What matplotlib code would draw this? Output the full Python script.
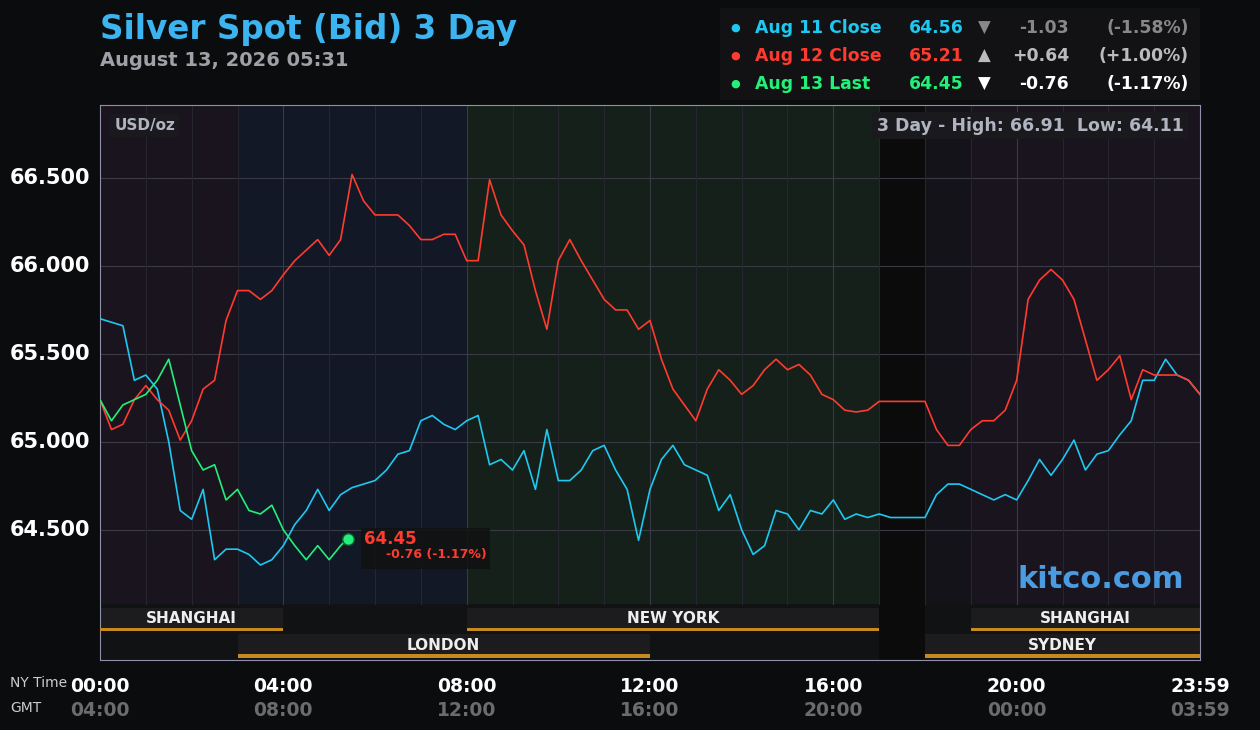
import numpy as np
import matplotlib
matplotlib.use("Agg")
import matplotlib.pyplot as plt
from matplotlib.patches import Rectangle

# ---- data (hours NY time, USD/oz) ----------------------------------
hours = np.arange(0, 24.01, 0.25)
aug11 = [65.70, 65.68, 65.66, 65.35, 65.38, 65.30, 65.00, 64.61, 64.56, 64.73,
         64.33, 64.39, 64.39, 64.36, 64.30, 64.33, 64.41, 64.53, 64.61, 64.73,
         64.61, 64.70, 64.74, 64.76, 64.78, 64.84, 64.93, 64.95, 65.12, 65.15,
         65.10, 65.07, 65.12, 65.15, 64.87, 64.90, 64.84, 64.95, 64.73, 65.07,
         64.78, 64.78, 64.84, 64.95, 64.98, 64.84, 64.73, 64.44, 64.73, 64.90,
         64.98, 64.87, 64.84, 64.81, 64.61, 64.70, 64.50, 64.36, 64.41, 64.61,
         64.59, 64.50, 64.61, 64.59, 64.67, 64.56, 64.59, 64.57, 64.59, 64.57,
         64.57, 64.57, 64.57, 64.70, 64.76, 64.76, 64.73, 64.70, 64.67, 64.70,
         64.67, 64.78, 64.90, 64.81, 64.90, 65.01, 64.84, 64.93, 64.95, 65.04,
         65.12, 65.35, 65.35, 65.47, 65.38, 65.35, 65.27]
aug12 = [65.24, 65.07, 65.10, 65.24, 65.32, 65.24, 65.18, 65.01, 65.12, 65.30,
         65.35, 65.69, 65.86, 65.86, 65.81, 65.86, 65.95, 66.03, 66.09, 66.15,
         66.06, 66.15, 66.52, 66.37, 66.29, 66.29, 66.29, 66.23, 66.15, 66.15,
         66.18, 66.18, 66.03, 66.03, 66.49, 66.29, 66.20, 66.12, 65.86, 65.64,
         66.03, 66.15, 66.03, 65.92, 65.81, 65.75, 65.75, 65.64, 65.69, 65.47,
         65.30, 65.21, 65.12, 65.30, 65.41, 65.35, 65.27, 65.32, 65.41, 65.47,
         65.41, 65.44, 65.38, 65.27, 65.24, 65.18, 65.17, 65.18, 65.23, 65.23,
         65.23, 65.23, 65.23, 65.07, 64.98, 64.98, 65.07, 65.12, 65.12, 65.18,
         65.35, 65.81, 65.92, 65.98, 65.92, 65.81, 65.58, 65.35, 65.41, 65.49,
         65.24, 65.41, 65.38, 65.38, 65.38, 65.35, 65.27]
hours13 = [0, 0.25, 0.5, 0.75, 1.0, 1.25, 1.5, 1.75, 2.0, 2.25, 2.5, 2.75,
           3.0, 3.25, 3.5, 3.75, 4.0, 4.25, 4.5, 4.75, 5.0, 5.25, 5.4]
aug13 = [65.24, 65.12, 65.21, 65.24, 65.27, 65.35, 65.47, 65.21, 64.95, 64.84,
         64.87, 64.67, 64.73, 64.61, 64.59, 64.64, 64.50, 64.41, 64.33, 64.41,
         64.33, 64.41, 64.45]

legend_rows = [("Aug 11 Close", "64.56", "▼", "-1.03", "(-1.58%)", "#1ec8f0", "#888888"),
               ("Aug 12 Close", "65.21", "▲", "+0.64", "(+1.00%)", "#ff3b2f", "#bbbbbb"),
               ("Aug 13 Last", "64.45", "▼", "-0.76", "(-1.17%)", "#22f07a", "#ffffff")]
y_ticks = [64.5, 65.0, 65.5, 66.0, 66.5]
ny_ticks = ["00:00", "04:00", "08:00", "12:00", "16:00", "20:00", "23:59"]
gmt_ticks = ["04:00", "08:00", "12:00", "16:00", "20:00", "00:00", "03:59"]
tick_pos = [0, 4, 8, 12, 16, 20, 24]

BG = "#0b0c0e"
YMIN, YMAX = 63.76, 66.915
BOT = 0.101  # fraction of axes used by session bars

fig = plt.figure(figsize=(12.6, 7.3), dpi=100, facecolor=BG)
ax = fig.add_axes([100 / 1260, 70 / 730, 1100 / 1260, 555 / 730])
ax.set_facecolor("#111214")
ax.set_xlim(0, 24)
ax.set_ylim(YMIN, YMAX)

# session backgrounds
for a, b, c in [(0, 3, "#1a141e"), (3, 8, "#121826"), (8, 17, "#16201a"),
                (17, 18, "#0b0b0b"), (18, 19, "#141319"), (19, 24, "#1a141e")]:
    ax.axvspan(a, b, ymin=BOT if c != "#0b0b0b" else 0, ymax=1, color=c, lw=0)

for v in y_ticks:
    ax.axhline(v, color="#3a3a44", lw=0.8, zorder=1)
for h in range(1, 24):
    ax.axvline(h, ymin=BOT, color="#3a3a44" if h % 4 == 0 else "#262630",
               lw=0.8, zorder=1)

ax.plot(hours, aug11, color="#1ec8f0", lw=1.2, zorder=3)
ax.plot(hours, aug12, color="#ff3b2f", lw=1.2, zorder=3)
ax.plot(hours13, aug13, color="#22f07a", lw=1.2, zorder=4)
ax.scatter([hours13[-1]], [aug13[-1]], s=70, color="#22f07a", zorder=5,
           edgecolor="#0a6030")
ax.add_patch(Rectangle((hours13[-1] + 0.3, aug13[-1] - 0.17), 2.8, 0.23,
                       color="#111111", alpha=0.85, zorder=4, lw=0))
ax.text(hours13[-1] + 0.35, aug13[-1], "64.45", color="#ff3b2f", fontsize=12,
        fontweight="bold", va="center", zorder=6)
ax.text(hours13[-1] + 0.85, aug13[-1] - 0.09, "-0.76 (-1.17%)", color="#ff3b2f",
        fontsize=9, fontweight="bold", va="center", zorder=6)

# session bars
tr = ax.get_xaxis_transform()
for a, b, name, y0 in [(0, 4, "SHANGHAI", 0.052), (8, 17, "NEW YORK", 0.052),
                       (19, 24, "SHANGHAI", 0.052), (3, 12, "LONDON", 0.004),
                       (18, 24, "SYDNEY", 0.004)]:
    ax.add_patch(Rectangle((a, y0), b - a, 0.042, transform=tr,
                           color="#1c1c1e", lw=0, zorder=2))
    ax.add_patch(Rectangle((a, y0), b - a, 0.006, transform=tr,
                           color="#c8891e", lw=0, zorder=3))
    ax.text((a + b) / 2, y0 + 0.022, name, transform=tr, color="#eeeeee",
            fontsize=11, fontweight="bold", ha="center", va="center", zorder=4)

# y labels, left-aligned at the figure edge
ax.set_yticks([])
ax.set_xticks([])
ytr = ax.get_yaxis_transform()
for v in y_ticks:
    ax.text(-90 / 1100, v, f"{v:.3f}", transform=ytr, color="#ffffff",
            fontsize=15, fontweight="bold", ha="left", va="center", clip_on=False)
for s in ax.spines.values():
    s.set_color("#9090a8")
    s.set_linewidth(0.8)

ax.text(0.013, 0.963, "USD/oz", transform=ax.transAxes, color="#b0b4c0",
        fontsize=11, fontweight="bold", va="center",
        bbox=dict(facecolor="#1a1a1e", edgecolor="none", pad=3))
ax.text(0.985, 0.963, "3 Day - High: 66.91  Low: 64.11", transform=ax.transAxes,
        color="#b0b4c0", fontsize=12.5, fontweight="bold", va="center", ha="right",
        bbox=dict(facecolor="#1a1a1e", edgecolor="none", pad=3))
ax.text(0.985, 0.145, "kitco.com", transform=ax.transAxes, color="#4a9be0",
        fontsize=22, fontweight="bold", ha="right", va="center")

# x labels
for p, ny, g in zip(tick_pos, ny_ticks, gmt_ticks):
    x = (100 + p / 24 * 1100) / 1260
    fig.text(x, 1 - 686 / 730, ny, color="#ffffff", fontsize=13.5,
             fontweight="bold", ha="center", va="center")
    fig.text(x, 1 - 711 / 730, g, color="#6c6c6c", fontsize=13.5,
             fontweight="bold", ha="center", va="center")
fig.text(10 / 1260, 1 - 683 / 730, "NY Time", color="#cccccc", fontsize=10, va="center")
fig.text(10 / 1260, 1 - 708 / 730, "GMT", color="#cccccc", fontsize=10, va="center")

# title
fig.text(100 / 1260, 1 - 30 / 730, "Silver Spot (Bid) 3 Day", color="#3cb4f0",
         fontsize=23.5, fontweight="bold", va="center")
fig.text(100 / 1260, 1 - 60 / 730, "August 13, 2026 05:31", color="#a0a0a8",
         fontsize=14, fontweight="bold", va="center")

# legend box
fig.patches.append(Rectangle((720 / 1260, 1 - 100 / 730), 480 / 1260, 92 / 730,
                             transform=fig.transFigure, color="#121214", lw=0))
for i, (lab, val, arr, ch, pct, col, chcol) in enumerate(legend_rows):
    y = 1 - (28 + 28 * i) / 730
    fig.text(730 / 1260, y, "●", color=col, fontsize=8, va="center")
    fig.text(755 / 1260, y, lab, color=col, fontsize=12.4, fontweight="bold", va="center")
    fig.text(964 / 1260, y, val, color=col, fontsize=12.4, fontweight="bold",
             va="center", ha="right")
    fig.text(984 / 1260, y, arr, color=chcol, fontsize=12, va="center", ha="center")
    fig.text(1069 / 1260, y, ch, color=chcol, fontsize=12.4, fontweight="bold",
             va="center", ha="right")
    fig.text(1189 / 1260, y, pct, color=chcol, fontsize=12.4, fontweight="bold",
             va="center", ha="right")

fig.savefig("out.png", dpi=100, facecolor=BG)
